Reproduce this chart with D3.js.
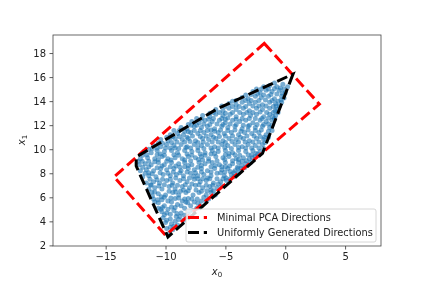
<!DOCTYPE html>
<html><head><meta charset="utf-8">
<script src="https://cdnjs.cloudflare.com/ajax/libs/d3/7.8.5/d3.min.js"></script>
<style>html,body{margin:0;background:#fff}svg{display:block;filter:blur(0.35px)}text{font-family:"DejaVu Sans";fill:#222}</style>
</head><body><svg id="c" width="423" height="282"></svg>
<script>
const xTicks=[-15,-10,-5,0,5];
const yTicks=[2,4,6,8,10,12,14,16,18];
const legendLabels=["Minimal PCA Directions","Uniformly Generated Directions"];
const redBox=[[-1.75,18.8],[2.85,13.75],[-10.0,2.85],[-14.3,7.7]];
const blackHull=[[0.65,16.25],[-1.9,9.65],[-9.8,2.7],[-12.45,8.6],[-12.45,9.35],[-5.7,13.35]];
const samples=[
[-9.7,3.0],[-9.9,3.4],[-9.4,3.3],[-10.0,3.9],[-9.5,3.8],[-9.0,3.7],
[-10.2,4.3],[-9.6,4.2],[-9.1,4.4],[-8.5,4.1],[-10.3,4.8],[-9.9,4.7],[-9.3,4.9],[-8.7,4.7],[-8.1,4.6],
[-10.6,5.1],[-10.1,5.3],[-9.5,5.2],[-9.0,5.4],[-8.4,5.1],[-7.9,5.3],[-7.4,5.1],
[-10.9,5.6],[-10.3,5.8],[-9.8,5.7],[-9.2,5.9],[-8.6,5.7],[-8.1,5.9],[-7.6,5.6],[-7.0,5.7],
[-11.1,6.1],[-10.6,6.3],[-10.0,6.2],[-9.4,6.4],[-8.9,6.2],[-8.3,6.4],[-7.7,6.2],[-7.2,6.4],[-6.6,6.2],[-6.2,6.4],
[-11.4,6.7],[-10.9,6.8],[-10.3,6.7],[-9.7,6.9],[-9.2,6.7],[-8.6,6.9],[-8.0,6.8],[-7.5,7.0],[-6.9,6.8],[-6.3,6.9],[-5.7,6.8],
[-11.6,7.2],[-11.0,7.3],[-10.5,7.2],[-9.9,7.4],[-9.4,7.2],[-8.8,7.4],[-8.2,7.3],[-7.6,7.5],[-7.1,7.3],[-6.6,7.4],[-6.0,7.2],[-5.4,7.3],[-4.9,7.4],
[-11.9,7.7],[-11.4,7.8],[-10.8,7.7],[-10.2,7.9],[-9.6,7.8],[-9.1,7.9],[-8.5,7.8],[-7.9,8.0],[-7.3,7.8],[-6.8,7.9],[-6.2,7.8],[-5.7,8.0],[-5.1,7.8],[-4.5,7.9],
[-12.1,8.2],[-11.6,8.3],[-11.0,8.2],[-10.4,8.4],[-9.9,8.3],[-9.3,8.4],[-8.7,8.2],[-8.1,8.4],[-7.6,8.3],[-7.0,8.4],[-6.5,8.2],[-5.9,8.4],[-5.3,8.3],[-4.8,8.4],[-4.2,8.2],[-3.7,8.4],
[-12.2,8.7],[-11.7,8.8],[-11.2,8.7],[-10.6,8.9],[-10.1,8.7],[-9.5,8.9],[-8.9,8.8],[-8.4,8.9],[-7.8,8.7],[-7.2,8.9],[-6.7,8.8],[-6.1,8.9],[-5.5,8.7],[-5.0,8.9],[-4.4,8.8],[-3.9,8.9],[-3.3,8.8],
[-12.1,9.2],[-11.5,9.3],[-10.9,9.2],[-10.3,9.4],[-9.8,9.2],[-9.2,9.3],[-8.6,9.2],[-8.1,9.4],[-7.5,9.3],[-7.0,9.4],[-6.4,9.2],[-5.8,9.4],[-5.2,9.3],[-4.7,9.4],[-4.1,9.2],[-3.5,9.3],[-3.0,9.2],[-2.5,9.4],
[-11.8,9.8],[-11.2,9.7],[-10.7,9.9],[-10.1,9.8],[-9.5,9.9],[-9.0,9.7],[-8.4,9.9],[-7.8,9.8],[-7.3,9.9],[-6.7,9.7],[-6.1,9.9],[-5.6,9.8],[-5.0,9.9],[-4.4,9.7],[-3.9,9.9],[-3.3,9.8],[-2.7,9.9],[-2.1,9.8],
[-11.0,10.3],[-10.4,10.2],[-9.9,10.4],[-9.3,10.3],[-8.7,10.4],[-8.2,10.2],[-7.6,10.4],[-7.0,10.3],[-6.5,10.4],[-5.9,10.2],[-5.3,10.4],[-4.8,10.3],[-4.2,10.4],[-3.6,10.2],[-3.1,10.4],[-2.5,10.3],[-1.9,10.4],
[-10.4,10.8],[-9.8,10.7],[-9.2,10.9],[-8.6,10.8],[-8.1,10.9],[-7.5,10.7],[-6.9,10.9],[-6.4,10.8],[-5.8,10.9],[-5.2,10.7],[-4.7,10.9],[-4.1,10.8],[-3.5,10.9],[-3.0,10.7],[-2.4,10.9],[-1.8,10.8],
[-9.6,11.2],[-9.0,11.3],[-8.5,11.2],[-7.9,11.4],[-7.3,11.3],[-6.8,11.4],[-6.2,11.2],[-5.6,11.4],[-5.1,11.3],[-4.5,11.4],[-3.9,11.2],[-3.4,11.4],[-2.8,11.3],[-2.2,11.4],[-1.6,11.2],
[-8.7,11.8],[-8.2,11.7],[-7.6,11.9],[-7.0,11.8],[-6.5,11.9],[-5.9,11.7],[-5.3,11.9],[-4.8,11.8],[-4.2,11.9],[-3.6,11.7],[-3.1,11.9],[-2.5,11.8],[-1.9,11.9],[-1.3,11.8],
[-7.8,12.3],[-7.2,12.2],[-6.7,12.4],[-6.1,12.3],[-5.5,12.4],[-5.0,12.2],[-4.4,12.4],[-3.8,12.3],[-3.3,12.4],[-2.7,12.2],[-2.1,12.4],[-1.6,12.3],[-1.1,12.4],
[-6.9,12.8],[-6.3,12.7],[-5.8,12.9],[-5.2,12.8],[-4.6,12.9],[-4.1,12.7],[-3.5,12.9],[-2.9,12.8],[-2.4,12.9],[-1.8,12.7],[-1.3,12.9],[-0.8,12.8],
[-5.8,13.3],[-5.2,13.2],[-4.7,13.4],[-4.1,13.3],[-3.5,13.4],[-3.0,13.2],[-2.4,13.4],[-1.9,13.3],[-1.3,13.4],[-0.7,13.3],
[-4.7,13.8],[-4.1,13.7],[-3.6,13.9],[-3.0,13.8],[-2.5,13.9],[-1.9,13.7],[-1.3,13.9],[-0.8,13.8],[-0.3,13.9],
[-3.6,14.3],[-3.1,14.2],[-2.5,14.4],[-2.0,14.3],[-1.4,14.4],[-0.9,14.2],[-0.3,14.4],
[-2.7,14.8],[-2.1,14.7],[-1.6,14.9],[-1.1,14.8],[-0.5,14.9],[0.0,14.7],
[-1.8,15.2],[-1.3,15.3],[-0.7,15.2],[-0.2,15.4],[0.2,15.2]
];
const samplesExtra=[
[-9.6,3.5],[-9.2,4.0],[-9.9,4.1],[-8.8,4.4],[-9.6,4.6],[-8.4,4.5],[-10.4,5.0],[-9.8,5.0],[-8.7,5.3],[-7.7,4.9],
[-10.6,5.55],[-9.5,5.6],[-8.3,5.6],[-7.3,5.5],[-11.0,5.85],[-10.1,6.0],[-8.9,5.95],[-7.8,5.85],[-6.8,6.0],[-6.4,5.85],
[-10.9,6.45],[-9.7,6.5],[-8.5,6.6],[-8.1,6.55],[-7.0,6.5],[-6.0,6.55],[-11.2,7.0],[-10.1,7.05],[-9.0,7.0],[-7.8,7.1],[-6.6,7.0],[-6.2,6.6],[-5.3,6.95],
[-11.3,7.5],[-10.7,7.45],[-9.6,7.5],[-8.5,7.55],[-8.0,7.6],[-6.9,7.55],[-5.7,7.55],[-5.2,7.55],[-4.6,7.55],[-11.7,8.0],[-11.1,7.95],[-9.8,8.0],[-8.8,8.05],[-7.0,8.1],[-6.5,7.6],[-5.4,8.05],[-4.3,8.05],[-3.9,8.05],
[-11.9,8.5],[-10.7,8.45],[-9.6,8.55],[-8.4,8.55],[-7.3,8.5],[-6.2,8.55],[-5.0,8.55],[-4.0,8.5],[-3.4,8.45],[-12.3,9.0],[-11.4,9.0],[-10.9,8.95],[-9.9,9.0],[-8.8,8.5],[-7.9,9.05],[-6.9,9.1],[-5.7,9.05],[-4.4,9.05],[-3.6,9.0],[-2.9,8.9],
[-11.9,9.5],[-10.7,9.55],[-10.1,9.5],[-8.9,9.5],[-7.8,9.5],[-6.7,9.5],[-6.2,9.6],[-5.0,9.55],[-3.8,9.5],[-2.8,9.55],[-2.3,9.6],[-11.4,10.0],[-10.7,10.1],[-9.6,10.1],[-8.9,10.05],[-7.9,10.1],[-6.8,10.05],[-5.6,10.1],[-4.5,10.05],[-3.3,10.1],[-2.2,10.1],[-1.8,10.05],
[-10.6,10.5],[-9.5,10.55],[-8.4,10.6],[-7.3,10.55],[-6.1,10.6],[-5.0,10.55],[-3.9,10.6],[-2.7,10.6],[-1.7,10.55],[-9.9,11.0],[-9.4,11.05],[-8.2,11.0],[-7.1,11.05],[-6.6,11.1],[-5.5,11.05],[-4.4,11.1],[-3.2,11.1],[-2.1,11.05],[-1.4,11.0],
[-9.3,11.55],[-8.4,11.5],[-7.6,11.55],[-6.5,11.55],[-5.9,11.5],[-4.8,11.55],[-3.7,11.5],[-2.5,11.55],[-1.4,11.5],[-8.1,12.05],[-7.4,12.0],[-6.3,12.05],[-5.2,12.05],[-4.1,12.05],[-3.0,12.0],[-1.8,12.05],[-1.1,12.0],
[-7.4,12.55],[-6.4,12.5],[-5.3,12.55],[-4.8,12.6],[-3.6,12.55],[-2.5,12.55],[-1.4,12.6],[-0.9,12.55],[-6.3,13.0],[-5.5,13.05],[-4.4,13.05],[-3.2,13.05],[-2.1,13.1],[-1.0,13.05],[-0.6,13.05],
[-5.3,13.6],[-4.4,13.55],[-3.3,13.55],[-2.2,13.6],[-1.0,13.55],[-0.5,13.6],[-4.4,14.0],[-3.3,14.05],[-2.2,14.05],[-1.1,14.05],[-0.6,14.0],[-3.3,14.5],[-2.3,14.6],[-1.2,14.55],[-0.1,14.25],[-2.4,15.0],[-1.4,15.0],[-0.4,15.1],[-0.9,15.5]
];
const samplesFill=[
[-9.3,3.6],[-8.9,4.15],[-10.1,4.55],[-9.05,4.65],[-8.0,4.85],[-10.25,5.15],[-9.2,5.15],[-8.15,5.55],[-7.1,5.3],[-10.65,5.8],[-9.55,5.95],[-8.4,5.85],[-7.35,5.85],[-6.6,5.7],
[-10.35,6.05],[-9.15,6.45],[-8.75,6.5],[-7.45,6.6],[-6.55,6.55],[-5.85,6.2],[-11.15,6.45],[-10.55,6.95],[-9.45,7.0],[-8.35,7.05],[-7.2,7.05],[-6.05,7.0],[-5.6,7.1],
[-11.25,7.05],[-10.25,7.5],[-9.15,7.6],[-7.65,7.75],[-7.3,7.55],[-6.3,7.55],[-4.95,7.6],[-4.3,7.7],[-11.4,8.05],[-10.45,8.05],[-9.35,8.1],[-8.2,8.1],[-7.5,8.05],[-6.2,8.1],[-5.05,8.1],[-4.6,8.15],[-3.95,8.4],
[-11.4,8.55],[-10.3,8.6],[-9.15,8.6],[-8.1,8.65],[-7.0,8.65],[-5.85,8.65],[-5.3,8.55],[-4.65,8.6],[-3.65,8.65],[-11.95,9.0],[-10.6,9.15],[-9.55,9.1],[-8.4,9.1],[-7.25,9.15],[-6.4,9.0],[-5.05,9.15],[-3.9,9.15],[-3.25,9.05],[-2.75,9.3],
[-11.55,9.55],[-10.45,9.6],[-9.3,9.55],[-8.2,9.6],[-7.1,9.6],[-5.9,9.65],[-4.7,9.65],[-4.2,9.55],[-3.1,9.55],[-2.45,9.65],[-11.1,10.05],[-10.0,10.1],[-9.2,10.1],[-8.3,10.15],[-7.3,10.15],[-6.2,10.1],[-5.05,10.15],[-3.9,10.15],[-2.8,10.1],
[-10.25,10.5],[-9.05,10.6],[-7.95,10.65],[-6.85,10.6],[-5.6,10.6],[-4.45,10.65],[-3.35,10.6],[-2.2,10.6],[-9.6,10.95],[-8.85,11.05],[-7.75,11.1],[-6.0,11.0],[-5.0,11.1],[-3.75,11.0],[-2.6,11.1],[-1.75,11.0],
[-8.85,11.55],[-8.1,11.45],[-7.1,11.55],[-6.2,11.6],[-5.4,11.6],[-4.2,11.6],[-3.1,11.6],[-2.0,11.6],[-1.1,11.55],[-7.85,12.0],[-6.8,12.1],[-5.7,12.1],[-4.6,12.1],[-3.5,12.0],[-2.35,12.05],[-1.4,12.1],
[-7.0,12.5],[-6.0,12.55],[-5.0,12.5],[-4.1,12.5],[-3.0,12.55],[-1.95,12.55],[-1.05,12.7],[-6.0,13.05],[-5.0,13.0],[-3.8,13.05],[-2.7,13.05],[-1.55,13.05],[-0.85,13.2],[-5.05,13.55],[-3.85,13.55],[-2.7,13.6],[-1.6,13.6],[-0.75,13.6],
[-4.1,14.05],[-2.85,14.05],[-1.65,14.1],[-0.35,14.1],[-2.85,14.55],[-1.8,14.5],[-0.7,14.6],[-0.25,14.65],[-2.0,15.0],[-0.9,15.05],[-0.1,15.0]
];
const points=samples.concat(samplesExtra,samplesFill);
const svg=d3.select("#c");
const x=d3.scaleLinear().domain([-19.4,8.0]).range([53,381]);
const y=d3.scaleLinear().domain([1.95,19.5]).range([246,35]);
const g=svg.append("g");
g.append("g").selectAll("circle").data(points).join("circle")
 .attr("cx",d=>x(d[0])).attr("cy",d=>y(d[1])).attr("r",2.5)
 .attr("fill","#1f77b4").attr("fill-opacity",0.6);
const line=d3.line().x(d=>x(d[0])).y(d=>y(d[1])).curve(d3.curveLinearClosed);
const dash="11,4.8";
g.append("path").attr("d",line(redBox)).attr("fill","none").attr("stroke","#ff0000").attr("stroke-width",3).attr("stroke-dasharray",dash);
g.append("path").attr("d",line(blackHull)).attr("fill","none").attr("stroke","#000").attr("stroke-width",3).attr("stroke-dasharray",dash);
function style(a){a.select(".domain").remove();a.selectAll("line").attr("stroke","#333").attr("stroke-width",0.8);a.selectAll("text").attr("font-size",10);}
svg.append("g").attr("transform","translate(0,246)").call(d3.axisBottom(x).tickValues(xTicks).tickSize(3.5).tickPadding(3.5).tickFormat(d3.format("d"))).call(style);
svg.append("g").attr("transform","translate(53,0)").call(d3.axisLeft(y).tickValues(yTicks).tickSize(3.5).tickPadding(3.5).tickFormat(d3.format("d"))).call(style);
svg.append("rect").attr("x",53).attr("y",35).attr("width",328).attr("height",211).attr("fill","none").attr("stroke","#444").attr("stroke-width",0.8);
function math(t,sub){t.attr("font-size",10);t.append("tspan").attr("font-style","italic").text("x");t.append("tspan").attr("font-size",7).attr("dy",1.5).text(sub);}
svg.append("text").attr("x",217).attr("y",275).attr("text-anchor","middle").call(math,"0");
svg.append("text").attr("transform","translate(25,140) rotate(-90)").attr("text-anchor","middle").call(math,"1");
const lg=svg.append("g");
lg.append("rect").attr("x",186).attr("y",209).attr("width",190).attr("height",33).attr("rx",2).attr("fill","#fff").attr("fill-opacity",0.8).attr("stroke","#ccc").attr("stroke-width",0.8);
const cols=["#ff0000","#000"];
legendLabels.forEach((l,i)=>{
 const yy=217.5+i*15;
 lg.append("line").attr("x1",188).attr("x2",207).attr("y1",yy).attr("y2",yy).attr("stroke",cols[i]).attr("stroke-width",3).attr("stroke-dasharray",dash);
 lg.append("text").attr("x",217).attr("y",yy+3.5).attr("font-size",9.85).text(l);
});
</script></body></html>
